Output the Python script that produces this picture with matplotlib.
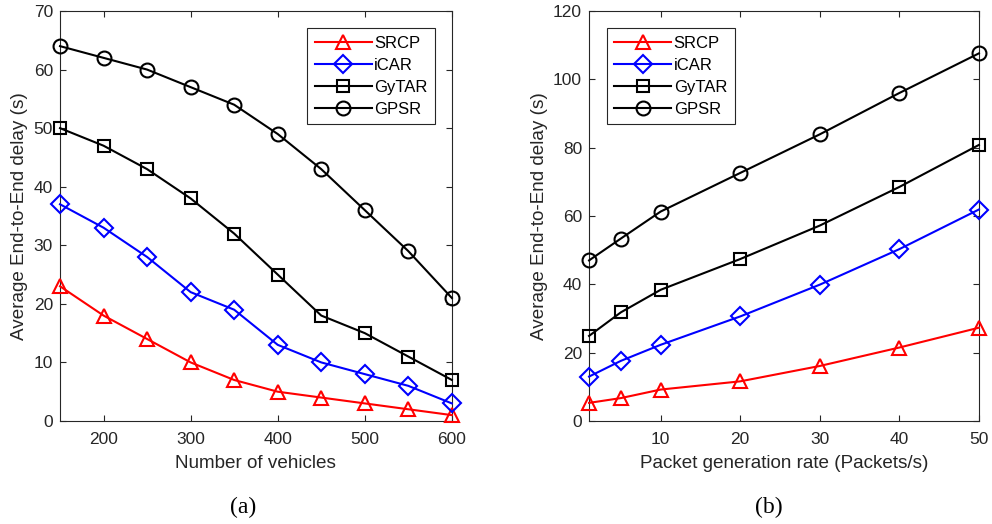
import matplotlib
matplotlib.use("Agg")
import matplotlib.pyplot as plt

plt.rcParams['font.family'] = ['Liberation Sans', 'DejaVu Sans']

# Panel (a)
vehicles = [150, 200, 250, 300, 350, 400, 450, 500, 550, 600]
srcp_a = [23, 18, 14, 10, 7, 5, 4, 3, 2, 1]
icar_a = [37, 33, 28, 22, 19, 13, 10, 8, 6, 3]
gytar_a = [50, 47, 43, 38, 32, 25, 18, 15, 11, 7]
gpsr_a = [64, 62, 60, 57, 54, 49, 43, 36, 29, 21]

# Panel (b)
rate = [1, 5, 10, 20, 30, 40, 50]
srcp_b = [5.3, 6.7, 9.2, 11.6, 16.1, 21.5, 27.3]
icar_b = [13.0, 17.6, 22.3, 30.6, 39.9, 50.3, 61.9]
gytar_b = [24.9, 31.8, 38.4, 47.4, 57.2, 68.5, 80.8]
gpsr_b = [47.0, 53.4, 61.3, 72.6, 83.9, 96.0, 107.6]

names = ['SRCP', 'iCAR', 'GyTAR', 'GPSR']
colors = ['#ff0000', '#0000ff', '#000000', '#000000']
markers = ['^', 'D', 's', 'o']
msizes = [10, 9, 8.5, 10]

fig = plt.figure(figsize=(9.92, 5.24), dpi=100)
axa = fig.add_axes([0.0605, 0.1966, 0.395, 0.7824])
axb = fig.add_axes([0.5938, 0.1966, 0.393, 0.7824])

edge = '#262626'
TICK = 12.5
LAB = 13.6
LEG = 12

def style(ax):
    for s in ax.spines.values():
        s.set_color(edge)
        s.set_linewidth(0.8)
    ax.tick_params(direction='in', top=True, right=True, colors=edge,
                   labelsize=TICK, length=4, width=0.8)
    ax.tick_params(axis='x', pad=8)
    ax.tick_params(axis='y', pad=5)

for ax, x, series in [(axa, vehicles, [srcp_a, icar_a, gytar_a, gpsr_a]),
                      (axb, rate, [srcp_b, icar_b, gytar_b, gpsr_b])]:
    for n, c, m, ms, y in zip(names, colors, markers, msizes, series):
        ax.plot(x, y, color=c, marker=m, markersize=ms, markerfacecolor='none',
                markeredgecolor=c, markeredgewidth=1.5, linewidth=1.5, label=n,
                clip_on=False, zorder=3)
    style(ax)
    ax.set_ylabel('Average End-to-End delay (s)', fontsize=LAB, color=edge, labelpad=4)

legkw = dict(fontsize=LEG, handlelength=3.4, fancybox=False, edgecolor=edge,
             borderpad=0.45, labelspacing=0.42, handletextpad=0.15,
             borderaxespad=0, framealpha=1)

axa.set_xlim(150, 600)
axa.set_ylim(0, 70)
axa.set_xticks([200, 300, 400, 500, 600])
axa.set_yticks(range(0, 71, 10))
axa.set_xlabel('Number of vehicles', fontsize=LAB, color=edge, labelpad=6)
leg = axa.legend(loc='upper right', bbox_to_anchor=(0.957, 0.9585), **legkw)
leg.get_frame().set_linewidth(0.8)

axb.set_xlim(1, 50)
axb.set_ylim(0, 120)
axb.set_xticks([10, 20, 30, 40, 50])
axb.set_yticks(range(0, 121, 20))
axb.set_xlabel('Packet generation rate (Packets/s)', fontsize=LAB, color=edge, labelpad=6)
leg = axb.legend(loc='upper left', bbox_to_anchor=(0.046, 0.9585), **legkw)
leg.get_frame().set_linewidth(0.8)

fig.text(0.245, 0.032, '(a)', ha='center', va='center', fontsize=17,
         family=['Liberation Serif', 'DejaVu Serif'])
fig.text(0.775, 0.032, '(b)', ha='center', va='center', fontsize=17,
         family=['Liberation Serif', 'DejaVu Serif'])

fig.savefig('out.png', dpi=100)
